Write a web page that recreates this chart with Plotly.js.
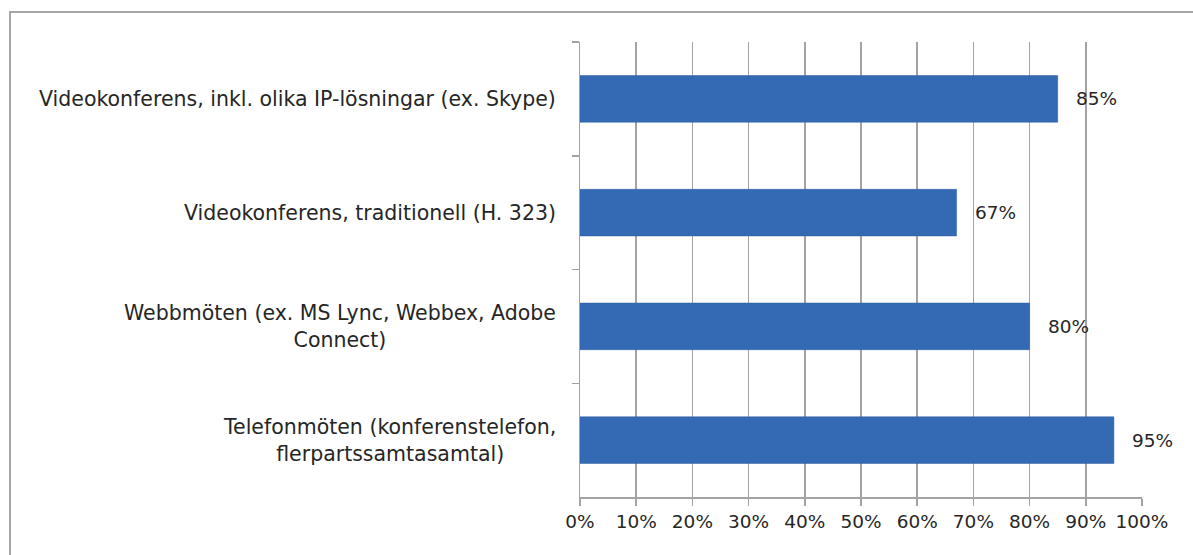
<!DOCTYPE html>
<html>
<head>
<meta charset="utf-8">
<script src="https://cdn.plot.ly/plotly-3.0.1.min.js"></script>
<style>
  html, body { margin: 0; padding: 0; background: #ffffff; overflow: hidden; }
  #frame { position: absolute; left: 9px; top: 11px; width: 1300px; height: 700px;
           border: 2px solid #a6a6a6; box-sizing: border-box; }
  #chart { position: absolute; left: 0; top: 0; width: 1193px; height: 555px; }
</style>
</head>
<body>
<div id="frame"></div>
<div id="chart"></div>
<script>
// Data (top to bottom as shown)
const categories = [
  "Videokonferens, inkl. olika IP-lösningar (ex. Skype)",
  "Videokonferens, traditionell (H. 323)",
  "Webbmöten (ex. MS Lync, Webbex, Adobe<br>Connect)",
  "Telefonmöten (konferenstelefon,<br>flerpartssamtasamtal)"
];
const values = [0.85, 0.67, 0.80, 0.95];
const valueLabels = ["85%", "67%", "80%", "95%"];
const xTickVals = [0, 0.1, 0.2, 0.3, 0.4, 0.5, 0.6, 0.7, 0.8, 0.9, 1.0];
const xTickText = ["0%", "10%", "20%", "30%", "40%", "50%", "60%", "70%", "80%", "90%", "100%"];

const FONT = "DejaVu Sans, Liberation Sans, Arial, sans-serif";

const trace = {
  type: "bar",
  orientation: "h",
  x: values,
  y: categories,
  marker: { color: "#3469b4", line: { color: "#2e5d9f", width: 0.5 } },
  hoverinfo: "skip"
};

const annotations = [];
categories.forEach((c, i) => {
  annotations.push({
    xref: "x", yref: "y", x: values[i], y: c,
    text: valueLabels[i], showarrow: false,
    xanchor: "left", xshift: 16,
    font: { family: FONT, size: 18.5, color: "#262626" }
  });
  annotations.push({
    xref: "paper", yref: "y", x: 0, y: c,
    text: c, showarrow: false,
    xanchor: "right", xshift: -22, align: "center",
    font: { family: FONT, size: 20.5, color: "#262626" }
  });
});

const layout = {
  width: 1193, height: 555,
  margin: { l: 579.5, r: 51, t: 42, b: 58, pad: 0 },
  paper_bgcolor: "rgba(0,0,0,0)",
  plot_bgcolor: "rgba(0,0,0,0)",
  showlegend: false,
  bargap: 0.59,
  xaxis: {
    range: [0, 1],
    tickvals: xTickVals,
    ticktext: xTickText,
    showgrid: true,
    gridcolor: "#a3a3a3",
    gridwidth: 1.5,
    zeroline: false,
    showline: true,
    linecolor: "#a3a3a3",
    linewidth: 1.5,
    ticks: "outside",
    ticklen: 7,
    tickwidth: 1.5,
    tickcolor: "#a3a3a3",
    tickfont: { family: FONT, size: 18.5, color: "#262626" },
    fixedrange: true
  },
  yaxis: {
    type: "category",
    autorange: "reversed",
    showticklabels: false,
    showgrid: false,
    zeroline: false,
    showline: true,
    linecolor: "#a3a3a3",
    linewidth: 1.5,
    ticks: "outside",
    tickson: "boundaries",
    ticklen: 7,
    tickwidth: 1.5,
    tickcolor: "#a3a3a3",
    fixedrange: true
  },
  annotations: annotations
};

Plotly.newPlot("chart", [trace], layout, { displayModeBar: false, staticPlot: true });
</script>
</body>
</html>
